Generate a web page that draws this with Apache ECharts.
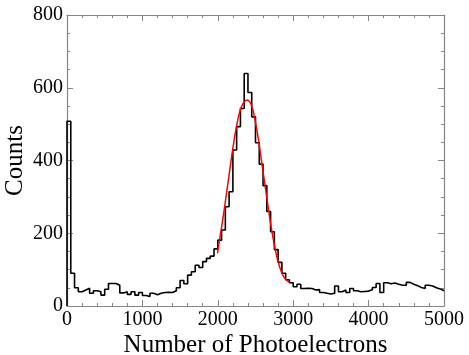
<!DOCTYPE html>
<html>
<head>
<meta charset="utf-8">
<script src="https://cdn.jsdelivr.net/npm/echarts@6/dist/echarts.min.js"></script>
<style>
html,body{margin:0;padding:0;background:#fff;}
#chart{width:469px;height:355px;}
</style>
</head>
<body>
<div id="chart"></div>
<script>
// Histogram: bin width and counts per bin (0..5000)
const binWidth = 50;
const counts = [
  508, 90, 50, 39, 44, 49, 35, 42, 39, 30,
  46, 62, 62, 57, 36, 39, 32, 39, 30, 37,
  29, 26, 35, 31, 35, 37, 38, 37, 42, 50,
  70, 61, 85, 94, 112, 106, 122, 131, 137, 157,
  181, 209, 273, 314, 429, 493, 543, 639, 587, 520,
  449, 390, 331, 260, 204, 155, 120, 90, 72, 64,
  53, 60, 48, 49, 48, 44, 45, 37, 35, 33,
  35, 55, 39, 44, 37, 48, 42, 39, 40, 41,
  45, 51, 62, 37, 64, 61, 63, 60, 57, 57,
  65, 60, 56, 51, 48, 57, 55, 50, 47, 42
];
// Fit curve
const fitX = [1996, 2071, 2115, 2159, 2203, 2247, 2291, 2336, 2388, 2446, 2490, 2534, 2578, 2623, 2667, 2711, 2755, 2799, 2843, 2888, 2954];
const fitY = [145, 245, 309, 374, 438, 493, 534, 557, 566, 552, 515, 465, 401, 337, 273, 213, 163, 122, 94, 76, 64];
// Axis ticks
const xTicks = [0, 1000, 2000, 3000, 4000, 5000];
const yTicks = [0, 200, 400, 600, 800];
const xTitle = 'Number of Photoelectrons';
const yTitle = 'Counts';

const histData = [[0, 0]];
counts.forEach((c, i) => histData.push([i * binWidth, c]));
histData.push([counts.length * binWidth, counts[counts.length - 1]]);
const fitData = fitX.map((x, i) => [x, fitY[i]]);

const frame = '#858585';
const font = '"Liberation Serif", "Times New Roman", serif';
function xAx(pos, show) {
  return {
    type: 'value', position: pos, min: xTicks[0], max: xTicks[xTicks.length - 1], interval: 1000,
    name: show ? xTitle : '', nameLocation: 'middle', nameGap: 27, nameMoveOverlap: false,
    nameTextStyle: {fontFamily: font, fontSize: 25, color: '#000'},
    axisLine: {show: true, onZero: false, lineStyle: {color: frame, width: 1.2}},
    axisTick: {show: true, inside: true, length: 6, lineStyle: {color: frame}},
    minorTick: {show: true, splitNumber: 5, length: 3, lineStyle: {color: frame}},
    axisLabel: {show: show, fontFamily: font, fontSize: 20, color: '#000', margin: 4, formatter: v => String(v)},
    splitLine: {show: false}
  };
}
function yAx(pos, show) {
  return {
    type: 'value', position: pos, min: yTicks[0], max: yTicks[yTicks.length - 1], interval: 200,
    name: show ? yTitle : '', nameLocation: 'middle', nameGap: 39, nameRotate: 90, nameMoveOverlap: false,
    nameTextStyle: {fontFamily: font, fontSize: 25, color: '#000'},
    axisLine: {show: true, onZero: false, lineStyle: {color: frame, width: 1.2}},
    axisTick: {show: true, inside: true, length: 6, lineStyle: {color: frame}},
    minorTick: {show: true, splitNumber: 4, length: 3, lineStyle: {color: frame}},
    axisLabel: {show: show, fontFamily: font, fontSize: 20, color: '#000', margin: 4, formatter: v => String(v)},
    splitLine: {show: false}
  };
}
const chart = echarts.init(document.getElementById('chart'), null, {renderer: 'canvas'});
chart.setOption({
  animation: false,
  backgroundColor: '#fff',
  grid: {left: 67, right: 25, top: 15, bottom: 49, containLabel: false, outerBoundsMode: 'none'},
  xAxis: [xAx('bottom', true), xAx('top', false)],
  yAxis: [yAx('left', true), yAx('right', false)],
  series: [
    {
      type: 'line', data: histData, step: 'end', showSymbol: false,
      lineStyle: {color: '#000', width: 1.6}, z: 2
    },
    {
      type: 'line', data: fitData, smooth: 0.4, showSymbol: false,
      lineStyle: {color: '#ff0000', width: 1.5}, z: 3
    }
  ]
});
</script>
</body>
</html>
